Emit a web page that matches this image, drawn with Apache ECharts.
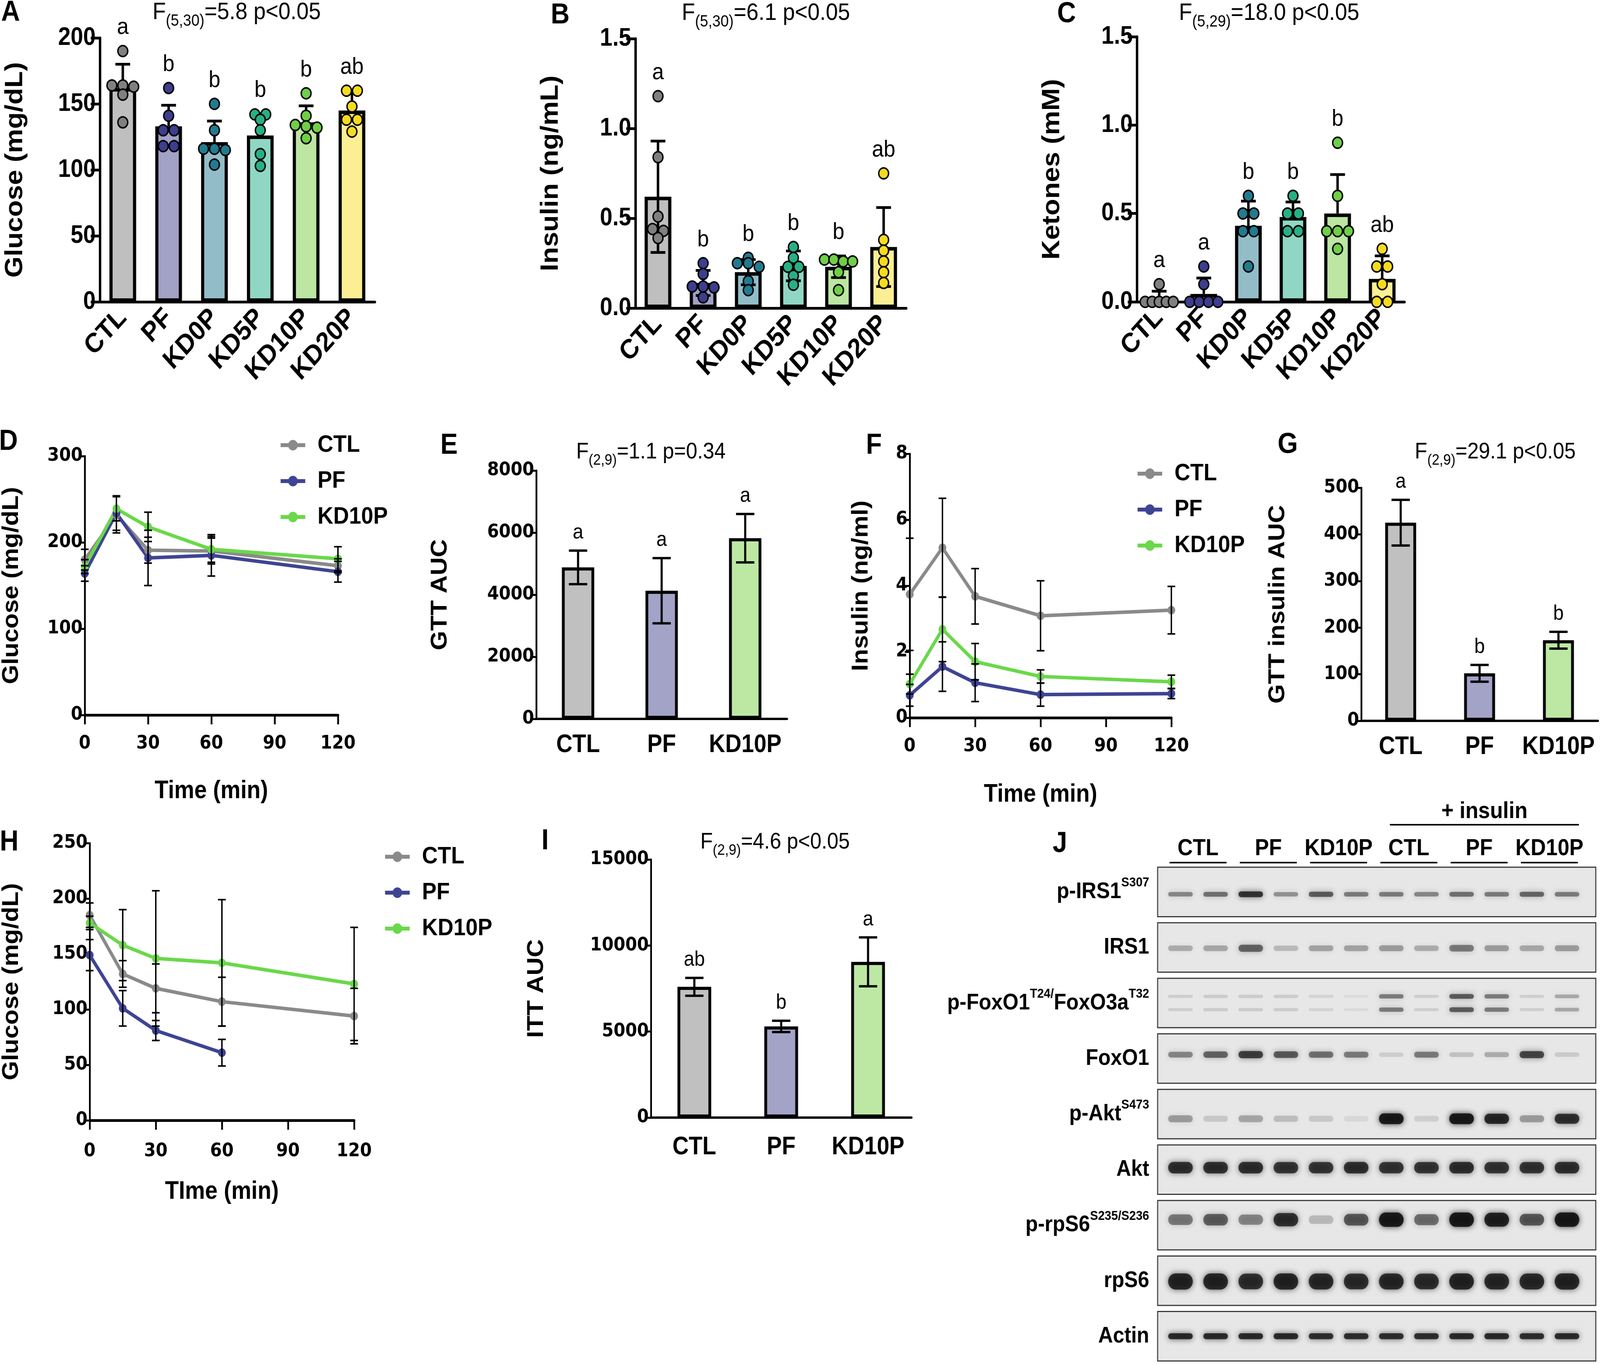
<!DOCTYPE html>
<html>
<head>
<meta charset="utf-8">
<script src="https://cdn.jsdelivr.net/npm/echarts@6/dist/echarts.min.js"></script>
<style>
html, body { margin: 0; padding: 0; background: #fff; overflow: hidden; }
#frame { width: 100vw; height: 100vh; overflow: hidden; }
#main { width: 4550px; height: 3493px; transform-origin: 0 0; }
</style>
</head>
<body>
<div id="frame"><div id="main"></div></div>
<script>
// ---------- data ----------
var groups6 = ['CTL', 'PF', 'KD0P', 'KD5P', 'KD10P', 'KD20P'];
var groups3 = ['CTL', 'PF', 'KD10P'];

// A: fasting glucose (mg/dL)
var glucoseMean = [162, 133, 121, 126, 136, 145];
var glucoseSd = [18, 16, 16, 16.5, 12.5, 13];
var glucosePts = [
    [190, 164, 163, 164, 157, 136],
    [162, 141, 130, 130, 118, 118],
    [150, 130, 116, 115, 116, 104],
    [142, 142, 138, 130, 112, 103],
    [158, 141, 133, 134, 132, 124],
    [160, 160, 148, 138, 138, 129]
];
var glucoseSig = ['a', 'b', 'b', 'b', 'b', 'ab'];

// B: insulin (ng/mL)
var insulinMean = [0.62, 0.14, 0.2, 0.235, 0.23, 0.34];
var insulinSd = [0.31, 0.07, 0.07, 0.083, 0.06, 0.22];
var insulinPts = [
    [1.18, 0.84, 0.51, 0.44, 0.43, 0.39],
    [0.25, 0.19, 0.12, 0.115, 0.06, 0.12],
    [0.28, 0.25, 0.25, 0.23, 0.15, 0.10],
    [0.34, 0.28, 0.23, 0.23, 0.18, 0.13],
    [0.27, 0.27, 0.26, 0.26, 0.2, 0.1],
    [0.75, 0.38, 0.32, 0.26, 0.2, 0.14]
];
var insulinSig = ['a', 'b', 'b', 'b', 'b', 'ab'];

// C: ketones (mM)
var ketoneMean = [0.02, 0.045, 0.43, 0.48, 0.5, 0.13];
var ketoneSd = [0.04, 0.09, 0.14, 0.085, 0.22, 0.13];
var ketonePts = [
    [0.1, 0, 0, 0, 0, 0],
    [0.2, 0.1, 0, 0, 0, 0],
    [0.6, 0.5, 0.5, 0.4, 0.4, 0.2],
    [0.6, 0.5, 0.5, 0.4, 0.4],
    [0.9, 0.6, 0.4, 0.4, 0.4, 0.3],
    [0.3, 0.2, 0.2, 0.1, 0, 0]
];
var ketoneSig = ['a', 'a', 'b', 'b', 'b', 'ab'];

// D: GTT glucose
var times = [0, 15, 30, 60, 120];
var gttCtl = [180, 232, 191, 190, 173];
var gttCtlErr = [12, 21, 15, 15, 8];
var gttPf = [164, 234, 182, 185, 166];
var gttPfErr = [9, 20, 32, 24, 12];
var gttKd = [172, 239, 218, 192, 181];
var gttKdErr = [8, 14, 17, 15, 14];

// E: GTT AUC
var gttAuc = [4880, 4130, 5820];
var gttAucErr = [540, 1050, 780];
var gttAucSig = ['a', 'a', 'a'];

// F: GTT insulin (ng/ml)
var insCtl = [3.74, 5.15, 3.68, 3.09, 3.26];
var insCtlErr = [1.7, 1.5, 0.84, 1.06, 0.72];
var insPf = [0.68, 1.55, 1.06, 0.70, 0.73];
var insPfErr = [0.33, 0.75, 0.57, 0.35, 0.15];
var insKd = [1.02, 2.68, 1.70, 1.25, 1.09];
var insKdErr = [0.3, 0.98, 0.55, 0.2, 0.2];

// G: GTT insulin AUC
var insAuc = [425, 102, 173];
var insAucErr = [49, 18, 18];
var insAucSig = ['a', 'b', 'b'];

// H: ITT glucose
var ittCtl = [185, 132, 119, 107, 94];
var ittCtlErr = [11, 12, 22, 22, 25];
var ittPf = [149, 101, 81, 61, null];
var ittPfErr = [14, 16, 9, 12, null];
var ittKd = [178, 158, 146, 142, 123];
var ittKdErr = [6, 32, 61, 57, 51];

// I: ITT AUC
var ittAuc = [7600, 5300, 9050];
var ittAucErr = [520, 330, 1420];
var ittAucSig = ['ab', 'b', 'a'];

// J: western blot, relative band darkness per lane (12 lanes)
var blotRows = ['p-IRS1', 'IRS1', 'p-FoxO1/FoxO3a', 'FoxO1', 'p-Akt', 'Akt', 'p-rpS6', 'rpS6', 'Actin'];
var blotRowLabels = ['p-IRS1{sup|S307}', 'IRS1', 'p-FoxO1{sup|T24/}FoxO3a{sup|T32}', 'FoxO1',
    'p-Akt{sup|S473}', 'Akt', 'p-rpS6{sup|S235/S236}', 'rpS6', 'Actin'];
var blotGroups = ['CTL', 'PF', 'KD10P', 'CTL', 'PF', 'KD10P'];
var bandPIRS1 = [0.45, 0.55, 0.85, 0.4, 0.65, 0.5, 0.5, 0.45, 0.55, 0.5, 0.6, 0.5];
var bandIRS1 = [0.28, 0.3, 0.6, 0.22, 0.32, 0.32, 0.35, 0.28, 0.5, 0.35, 0.3, 0.35];
var bandPFoxO = [0.12, 0.14, 0.14, 0.14, 0.1, 0.06, 0.5, 0.12, 0.65, 0.5, 0.12, 0.3];
var bandFoxO1 = [0.45, 0.6, 0.78, 0.65, 0.55, 0.5, 0.12, 0.5, 0.18, 0.28, 0.75, 0.14];
var bandPAkt = [0.35, 0.15, 0.3, 0.2, 0.15, 0.08, 1, 0.12, 1, 0.9, 0.35, 0.85];
var bandAkt = [0.85, 0.85, 0.85, 0.82, 0.82, 0.85, 0.82, 0.82, 0.85, 0.82, 0.82, 0.85];
var bandPRpS6 = [0.5, 0.62, 0.45, 0.85, 0.22, 0.65, 1, 0.55, 1, 0.95, 0.65, 1];
var bandRpS6 = [0.9, 0.9, 0.85, 0.9, 0.88, 0.85, 0.88, 0.85, 0.9, 0.88, 0.88, 0.9];
var bandActin = [0.9, 0.9, 0.9, 0.9, 0.88, 0.88, 0.88, 0.88, 0.9, 0.9, 0.88, 0.9];
var blotBands = [bandPIRS1, bandIRS1, bandPFoxO, bandFoxO1, bandPAkt, bandAkt, bandPRpS6, bandRpS6, bandActin];

// ---------- styles ----------
var FONT = '"Liberation Sans", Arial, sans-serif';
var NUMFONT = '"DejaVu Sans", sans-serif';
var barColors6 = ['#bfbfbf', '#a2a1c6', '#92bdc8', '#8fd7c4', '#bce6a1', '#fcef93'];
var dotColors6 = ['#808080', '#3d3e8d', '#237b90', '#28af86', '#70cf47', '#f5db20'];
var barColors3 = ['#c0c0c0', '#a3a3c7', '#bde8a4'];
var lineColors = {CTL: '#8a8a8a', PF: '#3e4494', KD10P: '#6ad84a'};
var bandThick = [14, 20, 13, 18, 24, 28, 32, 38, 14];
var bandShift = [6, 2, 0, -10, 12, -5, -14, 2, 0];

var option = {
    backgroundColor: '#ffffff',
    animation: false,
    grid: [], xAxis: [], yAxis: [], series: [], legend: [], graphic: []
};

function plain(v) { return String(v); }

function errRender(capW, lw, twoSided) {
    return function (params, api) {
        var x = api.value(0), m = api.value(1), s = api.value(2);
        var top = api.coord([x, m + s]);
        var bot = api.coord([x, twoSided ? m - s : m]);
        var kids = [
            {type: 'line', shape: {x1: top[0], y1: top[1], x2: bot[0], y2: bot[1]}, style: {stroke: '#000', lineWidth: lw}},
            {type: 'line', shape: {x1: top[0] - capW / 2, y1: top[1], x2: top[0] + capW / 2, y2: top[1]}, style: {stroke: '#000', lineWidth: lw}}
        ];
        if (twoSided) {
            kids.push({type: 'line', shape: {x1: bot[0] - capW / 2, y1: bot[1], x2: bot[0] + capW / 2, y2: bot[1]}, style: {stroke: '#000', lineWidth: lw}});
        }
        return {type: 'group', children: kids};
    };
}

// points at (nearly) the same height are spread sideways like a dot plot
function swarmOffsets(ys, r, step, maxSpread) {
    var idx = ys.map(function (y, k) { return k; }).sort(function (a, b) { return ys[a] - ys[b]; });
    var rows = [], cur = null;
    idx.forEach(function (k) {
        if (cur && Math.abs(ys[k] - ys[cur[0]]) < r * 0.7) cur.push(k);
        else { cur = [k]; rows.push(cur); }
    });
    var offs = [];
    rows.forEach(function (row) {
        var n = row.length, s = step;
        if (n > 1 && (n - 1) / 2 * s > maxSpread) s = maxSpread * 2 / (n - 1);
        row.forEach(function (k, j) { offs[k] = (j - (n - 1) / 2) * s; });
    });
    return offs;
}

function dotsRender(pts, r) {
    return function (params, api) {
        var i = params.dataIndex;
        var vals = pts[i];
        var ys = vals.map(function (v) { return api.coord([i, v])[1]; });
        var cx = api.coord([i, 0])[0];
        var offs = swarmOffsets(ys, r, 31, 40);
        return {
            type: 'group',
            children: vals.map(function (v, k) {
                return {type: 'circle', shape: {cx: cx + offs[k], cy: ys[k], r: r},
                    style: {fill: dotColors6[i], stroke: '#000', lineWidth: 4}};
            })
        };
    };
}

function letterRender(letters, size, gap) {
    return function (params, api) {
        var p = api.coord([api.value(0), api.value(1)]);
        return {type: 'text', x: p[0], y: p[1] - gap,
            style: {text: letters[params.dataIndex], textAlign: 'center', textVerticalAlign: 'middle',
                fontFamily: FONT, fontSize: size, fill: '#000'}};
    };
}

function dotBarPanel(c) {
    var gi = option.grid.length;
    option.grid.push({left: c.left, top: c.top, width: c.width, height: c.height});
    option.xAxis.push({
        gridIndex: gi, type: 'category', data: groups6,
        axisLine: {lineStyle: {color: '#000', width: 7}},
        axisTick: {alignWithLabel: true, length: 26, lineStyle: {color: '#000', width: 7}},
        axisLabel: {interval: 0, rotate: 45, margin: 30, color: '#000', fontFamily: FONT, fontWeight: 'bold', fontSize: 70}
    });
    option.yAxis.push({
        gridIndex: gi, type: 'value', min: 0, max: c.max, interval: c.interval,
        name: c.name, nameLocation: 'middle', nameGap: 205,
        nameTextStyle: {color: '#000', fontFamily: FONT, fontWeight: 'bold', fontSize: 70},
        axisLine: {show: true, lineStyle: {color: '#000', width: 7}},
        axisTick: {show: true, length: 26, lineStyle: {color: '#000', width: 7}},
        splitLine: {show: false},
        axisLabel: {color: '#000', fontFamily: FONT, fontWeight: 'bold', fontSize: 64, margin: 12,
            formatter: function (v) { return c.decimals ? v.toFixed(c.decimals) : String(v); }}
    });
    option.series.push({
        type: 'bar', name: c.id + ' mean', xAxisIndex: gi, yAxisIndex: gi, barWidth: 76, z: 2,
        data: c.mean.map(function (m, i) { return {value: m, itemStyle: {color: barColors6[i]}}; }),
        itemStyle: {borderColor: '#000', borderWidth: 9}
    });
    option.series.push({
        type: 'custom', xAxisIndex: gi, yAxisIndex: gi, z: 3, encode: {x: 0, y: 1},
        renderItem: errRender(42, 7, c.twoSided),
        data: c.mean.map(function (m, i) { return [i, m, c.sd[i]]; })
    });
    option.series.push({
        type: 'custom', xAxisIndex: gi, yAxisIndex: gi, z: 4, encode: {x: 0, y: 1},
        renderItem: dotsRender(c.pts, 14),
        data: c.pts.map(function (p, i) { return [i, Math.max.apply(null, p)]; })
    });
    option.series.push({
        type: 'custom', xAxisIndex: gi, yAxisIndex: gi, z: 5, encode: {x: 0, y: 1},
        renderItem: letterRender(c.sig, 60, 60),
        data: c.pts.map(function (p, i) { return [i, Math.max(Math.max.apply(null, p), c.mean[i] + c.sd[i])]; })
    });
}

function bar3Panel(c) {
    var gi = option.grid.length;
    option.grid.push({left: c.left, top: c.top, width: c.width, height: c.height});
    option.xAxis.push({
        gridIndex: gi, type: 'category', data: groups3,
        axisLine: {lineStyle: {color: '#000', width: 6}},
        axisTick: {alignWithLabel: true, length: 26, lineStyle: {color: '#000', width: 5}},
        axisLabel: {interval: 0, margin: c.catMargin, color: '#000', fontFamily: FONT, fontWeight: 'bold', fontSize: 64}
    });
    option.yAxis.push({
        gridIndex: gi, type: 'value', min: 0, max: c.max, interval: c.interval,
        name: c.name, nameLocation: 'middle', nameGap: c.nameGap,
        nameTextStyle: {color: '#000', fontFamily: FONT, fontWeight: 'bold', fontSize: 64},
        axisLine: {show: true, lineStyle: {color: '#000', width: 5}},
        axisTick: {show: true, length: 14, lineStyle: {color: '#000', width: 5}},
        splitLine: {show: false},
        axisLabel: {color: '#000', fontFamily: NUMFONT, fontWeight: 'bold', fontSize: 48, margin: 6, formatter: plain}
    });
    option.series.push({
        type: 'bar', name: c.id + ' mean', xAxisIndex: gi, yAxisIndex: gi, barWidth: c.barW, z: 2,
        data: c.mean.map(function (m, i) { return {value: m, itemStyle: {color: barColors3[i]}}; }),
        itemStyle: {borderColor: '#000', borderWidth: 8}
    });
    option.series.push({
        type: 'custom', xAxisIndex: gi, yAxisIndex: gi, z: 3, encode: {x: 0, y: 1},
        renderItem: errRender(52, 6, true),
        data: c.mean.map(function (m, i) { return [i, m, c.err[i]]; })
    });
    option.series.push({
        type: 'custom', xAxisIndex: gi, yAxisIndex: gi, z: 5, encode: {x: 0, y: 1},
        renderItem: letterRender(c.sig, 54, 46),
        data: c.mean.map(function (m, i) { return [i, m + c.err[i]]; })
    });
}

function linePanel(c) {
    var gi = option.grid.length;
    option.grid.push({left: c.left, top: c.top, width: c.width, height: c.height});
    option.xAxis.push({
        gridIndex: gi, type: 'value', min: 0, max: 120, interval: 30,
        name: c.xName, nameLocation: 'middle', nameGap: c.xNameGap,
        nameTextStyle: {color: '#000', fontFamily: FONT, fontWeight: 'bold', fontSize: 64},
        axisLine: {lineStyle: {color: '#000', width: 7}},
        axisTick: {length: 24, lineStyle: {color: '#000', width: 5}},
        splitLine: {show: false},
        axisLabel: {color: '#000', fontFamily: NUMFONT, fontWeight: 'bold', fontSize: 48, margin: c.xMargin, formatter: plain}
    });
    option.yAxis.push({
        gridIndex: gi, type: 'value', min: 0, max: c.max, interval: c.interval,
        name: c.name, nameLocation: 'middle', nameGap: c.nameGap,
        nameTextStyle: {color: '#000', fontFamily: FONT, fontWeight: 'bold', fontSize: 64},
        axisLine: {show: true, lineStyle: {color: '#000', width: 5}},
        axisTick: {show: true, length: 14, lineStyle: {color: '#000', width: 5}},
        splitLine: {show: false},
        axisLabel: {color: '#000', fontFamily: NUMFONT, fontWeight: 'bold', fontSize: 48, margin: 6, formatter: plain}
    });
    c.lines.forEach(function (ln) {
        var pts = [], errs = [];
        times.forEach(function (t, k) {
            if (ln.values[k] == null) return;
            pts.push([t, ln.values[k]]);
            errs.push([t, ln.values[k], ln.err[k]]);
        });
        option.series.push({
            type: 'line', name: ln.name, xAxisIndex: gi, yAxisIndex: gi, z: 2,
            data: pts, symbol: 'circle', symbolSize: 22,
            lineStyle: {width: 9, color: lineColors[ln.name]},
            itemStyle: {color: lineColors[ln.name]}
        });
        option.series.push({
            type: 'custom', xAxisIndex: gi, yAxisIndex: gi, z: 3, encode: {x: 0, y: 1},
            renderItem: errRender(22, 4, true), data: errs
        });
    });
    option.legend.push({
        data: ['CTL', 'PF', 'KD10P'], orient: 'vertical', left: c.legLeft, top: c.legTop,
        itemWidth: 70, itemHeight: 34, itemGap: 30, selectedMode: false,
        lineStyle: {width: 10},
        textStyle: {color: '#000', fontFamily: FONT, fontWeight: 'bold', fontSize: 62, padding: [0, 0, 0, 30]}
    });
}

// ---------- panels ----------
dotBarPanel({id: 'A', left: 284, top: 97, width: 782, height: 676, max: 200, interval: 50, decimals: 0,
    name: 'Glucose (mg/dL)', mean: glucoseMean, sd: glucoseSd, pts: glucosePts, sig: glucoseSig, twoSided: false});
dotBarPanel({id: 'B', left: 1807, top: 99, width: 770, height: 690, max: 1.5, interval: 0.5, decimals: 1,
    name: 'Insulin (ng/mL)', mean: insulinMean, sd: insulinSd, pts: insulinPts, sig: insulinSig, twoSided: true});
dotBarPanel({id: 'C', left: 3233, top: 94, width: 761, height: 679, max: 1.5, interval: 0.5, decimals: 1,
    name: 'Ketones (mM)', mean: ketoneMean, sd: ketoneSd, pts: ketonePts, sig: ketoneSig, twoSided: false});

linePanel({left: 230, top: 1168, width: 731, height: 663, max: 300, interval: 100, name: 'Glucose (mg/dL)', nameGap: 176,
    xName: 'Time (min)', xNameGap: 163, xMargin: 50, legLeft: 788, legTop: 1104,
    lines: [{name: 'CTL', values: gttCtl, err: gttCtlErr}, {name: 'PF', values: gttPf, err: gttPfErr},
        {name: 'KD10P', values: gttKd, err: gttKdErr}]});
bar3Panel({id: 'E', left: 1525, top: 1205, width: 713, height: 636, max: 8000, interval: 2000,
    name: 'GTT AUC', nameGap: 241, barW: 92, catMargin: 35, mean: gttAuc, err: gttAucErr, sig: gttAucSig});
linePanel({left: 2587, top: 1162, width: 744, height: 676, max: 8, interval: 2, name: 'Insulin (ng/ml)', nameGap: 106,
    xName: 'Time (min)', xNameGap: 165, xMargin: 50, legLeft: 3225, legTop: 1177,
    lines: [{name: 'CTL', values: insCtl, err: insCtlErr}, {name: 'PF', values: insPf, err: insPfErr},
        {name: 'KD10P', values: insKd, err: insKdErr}]});
bar3Panel({id: 'G', left: 3871, top: 1249, width: 673, height: 597, max: 500, interval: 100,
    name: 'GTT insulin AUC', nameGap: 205, barW: 88, catMargin: 35, mean: insAuc, err: insAucErr, sig: insAucSig});
linePanel({left: 224, top: 2159, width: 783, height: 710, max: 250, interval: 50, name: 'Glucose (mg/dL)', nameGap: 190,
    xName: 'TIme (min)', xNameGap: 151, xMargin: 56, legLeft: 1085, legTop: 2158,
    lines: [{name: 'CTL', values: ittCtl, err: ittCtlErr}, {name: 'PF', values: ittPf, err: ittPfErr},
        {name: 'KD10P', values: ittKd, err: ittKdErr}]});
bar3Panel({id: 'I', left: 1851, top: 2201, width: 741, height: 661, max: 15000, interval: 5000,
    name: 'ITT AUC', nameGap: 293, barW: 96, catMargin: 44, mean: ittAuc, err: ittAucErr, sig: ittAucSig});

// ---------- J: blot ----------
(function () {
    var gi = option.grid.length;
    option.grid.push({left: 3292, top: 2213, width: 1246, height: 1280});
    option.xAxis.push({gridIndex: gi, type: 'value', min: -0.65, max: 11.82, show: false});
    option.yAxis.push({
        gridIndex: gi, type: 'category', data: blotRows, inverse: true,
        axisLine: {show: false}, axisTick: {show: false}, splitLine: {show: false},
        axisLabel: {
            interval: 0, margin: 24, color: '#000', fontFamily: FONT, fontWeight: 'bold', fontSize: 58, lineHeight: 80,
            formatter: function (v) { return blotRowLabels[blotRows.indexOf(v)]; },
            rich: {sup: {fontFamily: FONT, fontWeight: 'bold', fontSize: 34, lineHeight: 40, verticalAlign: 'top', color: '#000'}}
        }
    });
    option.series.push({
        type: 'custom', xAxisIndex: gi, yAxisIndex: gi, z: 1, encode: {x: 0, y: 1},
        data: blotRows.map(function (r, i) { return [0, i]; }),
        renderItem: function (params, api) {
            var cy = api.coord([0, api.value(1)])[1];
            var bh = api.size([0, 1])[1] * 0.89;
            var cs = params.coordSys;
            return {type: 'rect', shape: {x: cs.x, y: cy - bh / 2, width: cs.width, height: bh},
                style: {fill: '#e7e7e7', stroke: '#3a3a3a', lineWidth: 3}};
        }
    });
    var bandData = [];
    blotBands.forEach(function (row, r) {
        row.forEach(function (v, lane) { bandData.push([lane, r, v]); });
    });
    option.series.push({
        type: 'custom', xAxisIndex: gi, yAxisIndex: gi, z: 2, encode: {x: 0, y: 1},
        data: bandData,
        renderItem: function (params, api) {
            var lane = api.value(0), r = api.value(1), v = api.value(2);
            var p = api.coord([lane, r]);
            var h = bandThick[r] * (0.55 + 0.6 * v);
            var w = 70;
            var col = 'rgba(15,15,15,' + (0.9 * v).toFixed(3) + ')';
            var ys = r === 2 ? [-17, 17] : [0];
            return {
                type: 'group',
                children: ys.map(function (dy) {
                    return {type: 'rect', shape: {x: p[0] - w / 2, y: p[1] + bandShift[r] + dy - h / 2, width: w, height: h, r: h / 2},
                        style: {fill: col, shadowBlur: 16, shadowColor: col}};
                })
            };
        }
    });
    option.series.push({
        type: 'custom', xAxisIndex: gi, yAxisIndex: gi, z: 3, encode: {x: 0, y: 1},
        data: blotGroups.map(function (g, k) { return [2 * k, 0, 2 * k + 1]; }),
        renderItem: function (params, api) {
            var a = api.coord([api.value(0), 0]), b = api.coord([api.value(2), 0]);
            var y0 = params.coordSys.y;
            return {type: 'group', children: [
                {type: 'text', x: (a[0] + b[0]) / 2, y: y0 - 40,
                    style: {text: blotGroups[params.dataIndex], textAlign: 'center', textVerticalAlign: 'middle',
                        fontFamily: FONT, fontWeight: 'bold', fontSize: 60, fill: '#000'}},
                {type: 'line', shape: {x1: a[0] - 31, y1: y0 - 4, x2: b[0] + 31, y2: y0 - 4}, style: {stroke: '#000', lineWidth: 4}}
            ]};
        }
    });
    option.series.push({
        type: 'custom', xAxisIndex: gi, yAxisIndex: gi, z: 3, encode: {x: 0, y: 1},
        data: [[6, 0, 11]],
        renderItem: function (params, api) {
            var a = api.coord([api.value(0), 0]), b = api.coord([api.value(2), 0]);
            var y0 = params.coordSys.y;
            return {type: 'group', children: [
                {type: 'text', x: (a[0] + b[0]) / 2 + 15, y: y0 - 135,
                    style: {text: '+ insulin', textAlign: 'center', textVerticalAlign: 'middle',
                        fontFamily: FONT, fontWeight: 'bold', fontSize: 60, fill: '#000'}},
                {type: 'line', shape: {x1: a[0] - 4, y1: y0 - 101, x2: b[0] + 34, y2: y0 - 101}, style: {stroke: '#000', lineWidth: 4}}
            ]};
        }
    });
})();

// ---------- panel letters and statistics ----------
[['A', 30, 33], ['B', 1593, 40], ['C', 3033, 37], ['D', 24, 1132], ['E', 1277, 1142], ['F', 2485, 1142],
    ['G', 3662, 1140], ['H', 26, 2158], ['I', 1550, 2155], ['J', 3014, 2162]].forEach(function (l) {
    option.graphic.push({type: 'text', x: l[1], y: l[2], z: 10,
        style: {text: l[0], textAlign: 'center', textVerticalAlign: 'middle', fontFamily: FONT, fontWeight: 'bold', fontSize: 74, fill: '#000'}});
});

function statTitle(x, y, sub, rest, size) {
    option.graphic.push({type: 'text', x: x, y: y, z: 10, style: {
        text: '{n|F}{s|' + sub + '}{n|' + rest + '}', textAlign: 'center', textVerticalAlign: 'middle',
        rich: {
            n: {fontFamily: FONT, fontSize: size, lineHeight: Math.round(size * 1.4), fill: '#000'},
            s: {fontFamily: FONT, fontSize: Math.round(size * 0.68), lineHeight: Math.round(size * 0.68), verticalAlign: 'bottom', fill: '#000'}
        }
    }});
}
statTitle(673, 32, '(5,30)', '=5.8 p<0.05', 62);
statTitle(2178, 34, '(5,30)', '=6.1 p<0.05', 62);
statTitle(3609, 34, '(5,29)', '=18.0 p<0.05', 62);
statTitle(1851, 1158, '(2,9)', '=1.1 p=0.34', 58);
statTitle(4252, 1158, '(2,9)', '=29.1 p<0.05', 58);
statTitle(2204, 2157, '(2,9)', '=4.6 p<0.05', 58);

// the browser window can be narrower than the 4550 px figure: fit the whole figure into it
var dom = document.getElementById('main');
var sx = Math.min(1, window.innerWidth / 4550), sy = Math.min(1, window.innerHeight / 3493);
if (sx < 1 || sy < 1) dom.style.transform = 'scale(' + sx + ',' + sy + ')';

var myChart = echarts.init(dom);
myChart.setOption(option);
</script>
</body>
</html>
